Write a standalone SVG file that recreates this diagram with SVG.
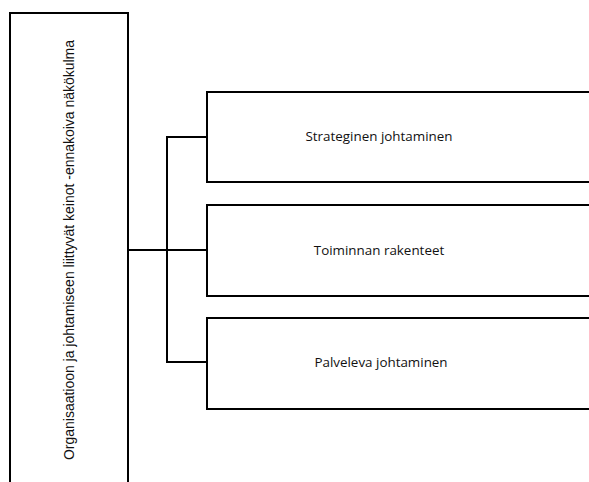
<svg xmlns="http://www.w3.org/2000/svg" width="589" height="482" viewBox="0 0 589 482">
  <style>
    .box { fill: #ffffff; stroke: #000000; stroke-width: 2; }
    .wire { fill: none; stroke: #000000; stroke-width: 2; }
    .label { font-family: "Open Sans", "Noto Sans", sans-serif; font-size: 13.4px; fill: #111111; text-anchor: middle; }
    .side { font-family: "Liberation Sans Narrow", "Liberation Sans", sans-serif; font-size: 15px; fill: #111111; text-anchor: middle; }
  </style>
  <rect width="589" height="482" fill="#ffffff"/>

  <g id="connectors">
    <path class="wire" d="M128 250 H207"/>
    <path class="wire" d="M207 137 H167 V362 H207"/>
  </g>

  <g id="main">
    <rect class="box" x="10" y="13" width="118" height="480"/>
    <text class="side" transform="translate(74 250) rotate(-90)" textLength="420" lengthAdjust="spacingAndGlyphs">Organisaatioon ja johtamiseen liittyvät keinot -ennakoiva näkökulma</text>
  </g>

  <g id="strateginen">
    <rect class="box" x="207" y="92" width="400" height="90"/>
    <text class="label" x="379" y="141">Strateginen johtaminen</text>
  </g>

  <g id="rakenteet">
    <rect class="box" x="207" y="205" width="400" height="91"/>
    <text class="label" x="379" y="255">Toiminnan rakenteet</text>
  </g>

  <g id="palveleva">
    <rect class="box" x="207" y="318" width="400" height="91"/>
    <text class="label" x="381" y="367">Palveleva johtaminen</text>
  </g>
</svg>
